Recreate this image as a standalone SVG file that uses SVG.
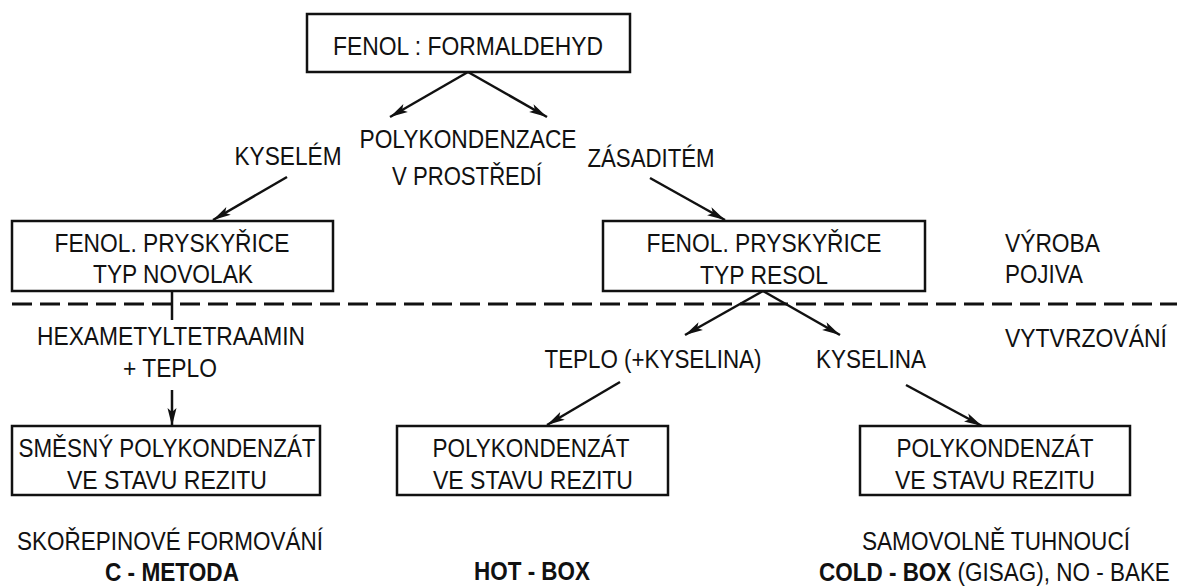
<svg xmlns="http://www.w3.org/2000/svg" width="1177" height="587" viewBox="0 0 1177 587">
<style>
  text { font-family: "Liberation Sans Narrow", "Liberation Sans", Arial, sans-serif; font-size: 26px; fill: #111; }
  .c { text-anchor: middle; }
  .b { font-weight: bold; }
  .box { fill: #fff; stroke: #111; stroke-width: 2.5; }
  .ln { stroke: #111; stroke-width: 2.5; fill: none; }
  .arr { stroke: #111; stroke-width: 2.5; fill: none; marker-end: url(#ah); }
  .dash { stroke: #111; stroke-width: 3; stroke-dasharray: 20 8; fill: none; }
</style>
<defs>
  <marker id="ah" markerUnits="userSpaceOnUse" markerWidth="20" markerHeight="12" refX="18" refY="6" orient="auto">
    <path d="M0,1.5 L18,6 L0,10.5 L4,6 z" fill="#111"/>
  </marker>
</defs>
<rect width="1177" height="587" fill="#fff"/>

<g id="connectors">
  <line class="dash" x1="12" y1="304" x2="1177" y2="304"/>
  <line class="arr" x1="468" y1="72" x2="390" y2="117"/>
  <line class="arr" x1="468" y1="72" x2="547" y2="117"/>
  <line class="arr" x1="287" y1="177" x2="213" y2="220"/>
  <line class="arr" x1="650" y1="178" x2="725" y2="220"/>
  <line class="ln" x1="172" y1="291" x2="172" y2="320"/>
  <line class="arr" x1="172" y1="390" x2="172" y2="426"/>
  <line class="arr" x1="763" y1="291" x2="685" y2="335"/>
  <line class="arr" x1="763" y1="291" x2="840" y2="335"/>
  <line class="arr" x1="620" y1="382" x2="547" y2="425"/>
  <line class="arr" x1="906" y1="385" x2="982" y2="426"/>
</g>

<g id="n-fenol-formaldehyd">
  <rect class="box" x="307" y="14" width="323" height="58"/>
  <text class="c" x="468" y="55" textLength="270" lengthAdjust="spacingAndGlyphs">FENOL : FORMALDEHYD</text>
</g>

<g id="l-polykondenzace">
  <text class="c" x="468" y="148" textLength="217" lengthAdjust="spacingAndGlyphs">POLYKONDENZACE</text>
  <text class="c" x="467" y="185" textLength="150" lengthAdjust="spacingAndGlyphs">V PROSTŘEDÍ</text>
</g>
<g id="l-kyselem">
  <text class="c" x="288" y="165" textLength="107" lengthAdjust="spacingAndGlyphs">KYSELÉM</text>
</g>
<g id="l-zasaditem">
  <text class="c" x="651" y="167" textLength="127" lengthAdjust="spacingAndGlyphs">ZÁSADITÉM</text>
</g>

<g id="n-novolak">
  <rect class="box" x="12" y="221" width="321" height="70"/>
  <text class="c" x="172" y="252" textLength="235" lengthAdjust="spacingAndGlyphs">FENOL. PRYSKYŘICE</text>
  <text class="c" x="173" y="283" textLength="160" lengthAdjust="spacingAndGlyphs">TYP NOVOLAK</text>
</g>

<g id="n-resol">
  <rect class="box" x="603" y="221" width="322" height="70"/>
  <text class="c" x="764" y="252" textLength="235" lengthAdjust="spacingAndGlyphs">FENOL. PRYSKYŘICE</text>
  <text class="c" x="764" y="284" textLength="128" lengthAdjust="spacingAndGlyphs">TYP RESOL</text>
</g>

<g id="l-vyroba">
  <text x="1005" y="252" textLength="95" lengthAdjust="spacingAndGlyphs">VÝROBA</text>
  <text x="1005" y="283" textLength="78" lengthAdjust="spacingAndGlyphs">POJIVA</text>
</g>
<g id="l-vytvrzovani" transform="translate(1005,0) scale(0.88,1)">
  <text x="0" y="347" textLength="184" lengthAdjust="spacingAndGlyphs">VYTVRZOVÁNÍ</text>
</g>

<g id="l-hexa">
  <text class="c" x="171" y="345" textLength="268" lengthAdjust="spacingAndGlyphs">HEXAMETYLTETRAAMIN</text>
  <text class="c" x="170" y="377" textLength="94" lengthAdjust="spacingAndGlyphs">+ TEPLO</text>
</g>
<g id="l-teplo">
  <text class="c" x="653" y="368" textLength="217" lengthAdjust="spacingAndGlyphs">TEPLO (+KYSELINA)</text>
</g>
<g id="l-kyselina">
  <text class="c" x="871" y="368" textLength="110" lengthAdjust="spacingAndGlyphs">KYSELINA</text>
</g>

<g id="n-smesny">
  <rect class="box" x="12" y="426" width="308" height="69"/>
  <text class="c" x="167" y="457" textLength="297" lengthAdjust="spacingAndGlyphs">SMĚSNÝ POLYKONDENZÁT</text>
  <text class="c" x="167" y="489" textLength="200" lengthAdjust="spacingAndGlyphs">VE STAVU REZITU</text>
</g>
<g id="n-hot">
  <rect class="box" x="397" y="426" width="271" height="69"/>
  <text class="c" x="531" y="457" textLength="197" lengthAdjust="spacingAndGlyphs">POLYKONDENZÁT</text>
  <text class="c" x="533" y="489" textLength="200" lengthAdjust="spacingAndGlyphs">VE STAVU REZITU</text>
</g>
<g id="n-cold">
  <rect class="box" x="860" y="426" width="270" height="69"/>
  <text class="c" x="995" y="457" textLength="197" lengthAdjust="spacingAndGlyphs">POLYKONDENZÁT</text>
  <text class="c" x="995" y="489" textLength="200" lengthAdjust="spacingAndGlyphs">VE STAVU REZITU</text>
</g>

<g id="l-shell">
  <text class="c" x="170" y="550" textLength="306" lengthAdjust="spacingAndGlyphs">SKOŘEPINOVÉ FORMOVÁNÍ</text>
  <text class="c b" x="172" y="581" textLength="134" lengthAdjust="spacingAndGlyphs">C - METODA</text>
</g>
<g id="l-hotbox">
  <text class="c b" x="532" y="580" textLength="116" lengthAdjust="spacingAndGlyphs">HOT - BOX</text>
</g>
<g id="l-coldbox">
  <text class="c" x="996" y="550" textLength="268" lengthAdjust="spacingAndGlyphs">SAMOVOLNĚ TUHNOUCÍ</text>
  <g transform="translate(819,0) scale(0.86,1)">
    <text x="0" y="581" textLength="408" lengthAdjust="spacingAndGlyphs"><tspan class="b">COLD - BOX</tspan> (GISAG), NO - BAKE</text>
  </g>
</g>
</svg>
